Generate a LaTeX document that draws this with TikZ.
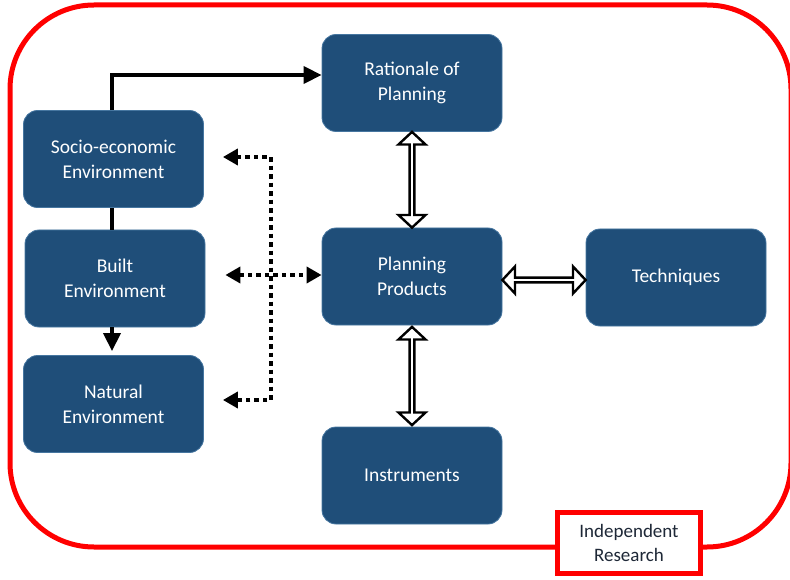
\documentclass[tikz,border=0pt]{standalone}
\usepackage{fontspec}
\setmainfont{Carlito}
\usetikzlibrary{arrows.meta,shapes.arrows,calc}
\definecolor{boxblue}{RGB}{31,78,121}
\definecolor{boxline}{RGB}{70,118,160}
\definecolor{textdark}{RGB}{30,40,55}
\begin{document}
\begin{tikzpicture}[x=1pt,y=-1pt,
 block/.style={rectangle, rounded corners=14pt, fill=boxblue, draw=boxline, line width=0.8pt,
   text=white, minimum width=180pt, minimum height=97pt, align=center,
   font=\fontsize{19.5}{25}\selectfont, inner sep=0pt},
 solidarrow/.style={line width=3.5pt, -{Triangle[length=18pt,width=17pt]}},
 solidline/.style={line width=3.5pt},
 dotline/.style={line width=4.5pt, dash pattern=on 4.5pt off 4pt},
 hollow/.style={double arrow, draw=black, fill=white, line width=2.4pt, minimum width=27pt,
   double arrow head extend=5.5pt, double arrow tip angle=94, inner sep=0pt}
]
\useasboundingbox (0,0) rectangle (790,580);
% outer frame
\draw[red, line width=5pt, rounded corners=84pt] (10,5) rectangle (791,547);

% blocks
\node[block] (socio) at (113.5,159) {Socio-economic\\Environment};
\node[block] (built) at (115,278.5) {Built\\Environment};
\node[block] (nat) at (113.5,404) {Natural\\Environment};
\node[block] (rat) at (412,83) {Rationale of\\Planning};
\node[block] (pp) at (412,276.5) {Planning\\Products};
\node[block] (tech) at (676,277.5) {Techniques};
\node[block] (inst) at (412,475.5) {Instruments};

% independent research label
\node[draw=red, line width=5pt, fill=white, minimum width=143pt, minimum height=61pt,
  text=textdark, font=\fontsize{19}{24}\selectfont, align=center, inner sep=0pt]
  (ir) at (629,543) {Independent\\Research};

% solid connectors
\draw[solidarrow] ([xshift=-1.5pt]socio.north) |- ([yshift=8pt]rat.west);
\draw[solidline] ([xshift=-1.5pt]socio.south) -- ([xshift=-3pt]built.north);
\draw[solidarrow] ([xshift=-3pt]built.south) -- ([xshift=-1.5pt,yshift=4pt]nat.north);

% dotted connectors
\coordinate (st) at ([xshift=19pt,yshift=2pt]socio.east);
\coordinate (jt) at ([xshift=67pt,yshift=2pt]socio.east);
\coordinate (sb) at ([xshift=19pt,yshift=4pt]nat.east);
\coordinate (jb) at ([xshift=67pt,yshift=4pt]nat.east);
\coordinate (hl) at ([xshift=20pt]built.east |- pp.west);
\draw[dotline, {Triangle[length=15pt,width=16pt]}-{Triangle[length=15pt,width=16pt]}]
  (st) -- (jt) -- (jb) -- (sb);
\draw[dotline, {Triangle[length=15pt,width=16pt]}-{Triangle[length=15pt,width=16pt]}]
  ([yshift=1.5pt]hl) -- ([yshift=1.5pt]pp.west);

% hollow double arrows
\path let \p1=(rat.south), \p2=(pp.north), \n1={veclen(\x2-\x1,\y2-\y1)} in
  node[hollow, rotate=90, minimum height=\n1] (a1) at ($(rat.south)!0.5!(pp.north)$) {};
\path let \p1=(pp.south), \p2=(inst.north), \n1={veclen(\x2-\x1,\y2-\y1)-3pt} in
  node[hollow, rotate=90, minimum height=\n1] (a2) at ($(pp.south)!0.5!(inst.north)$) {};
\path let \p1=(pp.east), \p2=(tech.west), \n1={veclen(\x2-\x1,\y2-\y1)} in
  node[hollow, minimum height=\n1] (a3) at ($([yshift=-3pt]pp.east)!0.5!([yshift=-3pt]tech.west)$) {};
\end{tikzpicture}
\end{document}
